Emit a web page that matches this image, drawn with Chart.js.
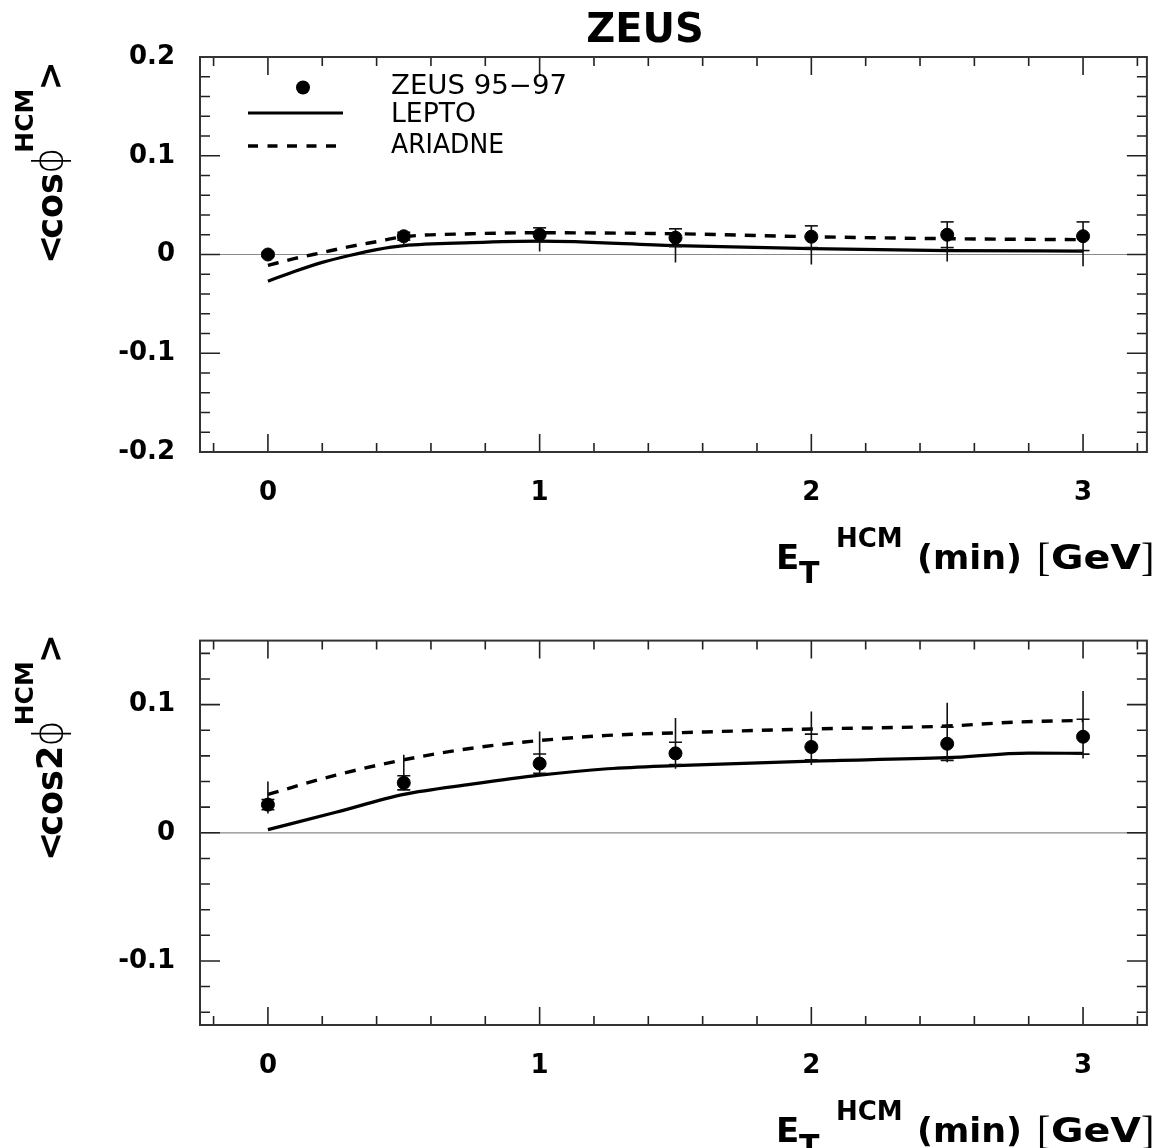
<!DOCTYPE html>
<html><head><meta charset="utf-8">
<script src="https://cdn.jsdelivr.net/npm/chart.js@4.4.1/dist/chart.umd.min.js"></script>
<style>
html,body{margin:0;padding:0;background:#fff;}
#wrap{position:relative;width:1155px;height:1148px;overflow:hidden;}
.box{position:absolute;left:0;}
</style></head><body>
<div id="wrap">
<div class="box" style="top:0;width:1155px;height:600px"><canvas id="c1" width="1155" height="600"></canvas></div>
<div class="box" style="top:600px;width:1155px;height:548px"><canvas id="c2" width="1155" height="548"></canvas></div>
</div>
<script>
// ---------- data ----------
const xPoints = [0, 0.5, 1, 1.5, 2, 2.5, 3];

// top panel: <cos phi HCM>
const cos1Values  = [0.000, 0.0185, 0.020, 0.017, 0.018, 0.020, 0.0185];
const cos1Stat    = [0.002, 0.004, 0.007, 0.009, 0.011, 0.013, 0.0145];
const cos1TotUp   = [0.002, 0.004, 0.007, 0.009, 0.011, 0.013, 0.0145];
const cos1TotDown = [0.004, 0.010, 0.017, 0.025, 0.028, 0.027, 0.0305];
const lepto1X   = [0, 0.1, 0.2, 0.3, 0.4, 0.5, 0.75, 1, 1.5, 2, 2.5, 3];
const lepto1Y   = [-0.027, -0.017, -0.008, -0.001, 0.005, 0.009, 0.012, 0.0135, 0.009, 0.006, 0.004, 0.0035];
const ariadne1X = [0, 0.1, 0.2, 0.3, 0.4, 0.5, 0.75, 1, 1.5, 2, 2.5, 3];
const ariadne1Y = [-0.011, -0.004, 0.002, 0.008, 0.013, 0.018, 0.021, 0.022, 0.021, 0.018, 0.016, 0.015];

// bottom panel: <cos 2phi HCM>
const cos2Values  = [0.022, 0.039, 0.054, 0.062, 0.067, 0.0695, 0.075];
const cos2Stat    = [0.004, 0.0055, 0.0075, 0.0087, 0.010, 0.013, 0.0136];
const cos2TotUp   = [0.018, 0.022, 0.025, 0.0276, 0.0277, 0.032, 0.0356];
const cos2TotDown = [0.007, 0.006, 0.0075, 0.012, 0.014, 0.0145, 0.017];
const lepto2X   = [0, 0.25, 0.5, 0.75, 1, 1.25, 1.5, 2, 2.5, 2.8, 3];
const lepto2Y   = [0.0025, 0.016, 0.030, 0.038, 0.045, 0.050, 0.0525, 0.056, 0.0586, 0.0622, 0.062];
const ariadne2X = [0, 0.25, 0.5, 0.75, 1, 1.25, 1.5, 2, 2.5, 2.75, 3];
const ariadne2Y = [0.030, 0.045, 0.057, 0.066, 0.072, 0.076, 0.078, 0.081, 0.0833, 0.0864, 0.0877];

// ticks
const xTickValues = [0, 1, 2, 3];
const xTickLabels = ['0', '1', '2', '3'];
const y1TickValues = [-0.2, -0.1, 0, 0.1, 0.2];
const y1TickLabels = ['-0.2', '-0.1', '0', '0.1', '0.2'];
const y2TickValues = [-0.1, 0, 0.1];
const y2TickLabels = ['-0.1', '0', '0.1'];

const legendLabels = ['ZEUS 95\u221297', 'LEPTO', 'ARIADNE'];
const chartTitle = 'ZEUS';

// ---------- helpers ----------
const BOLD = '"DejaVu Sans", sans-serif';
const pts = (xs, ys) => xs.map((x, i) => ({x, y: ys[i]}));
function errSegs(xs, ys, up, down) {
  const out = [];
  xs.forEach((x, i) => { out.push({x, y: ys[i] - down[i]}, {x, y: ys[i] + up[i]}, {x, y: null}); });
  return out;
}
function caps(xs, ys, st) {
  const out = [];
  xs.forEach((x, i) => { out.push({x, y: ys[i] - st[i]}, {x, y: ys[i] + st[i]}); });
  return out;
}
function fitText(ctx, s, x, y, w) {
  const m = ctx.measureText(s).width;
  ctx.save(); ctx.translate(x, y); ctx.scale(w / m, 1); ctx.fillText(s, 0, 0); ctx.restore();
}

function decoPlugin(cfg) {
  return {
    id: 'deco',
    beforeDatasetsDraw(chart) {
      const {ctx, chartArea: a, scales: {y}} = chart;
      const y0 = y.getPixelForValue(0);
      ctx.save();
      ctx.strokeStyle = '#8a8a8a'; ctx.lineWidth = 1.2;
      ctx.beginPath(); ctx.moveTo(a.left, y0); ctx.lineTo(a.right, y0); ctx.stroke();
      ctx.restore();
    },
    afterDraw(chart) {
      const {ctx, chartArea: a, scales: {x, y}} = chart;
      ctx.save();
      ctx.strokeStyle = '#222'; ctx.lineWidth = 1.6;
      // x ticks (inward, top and bottom)
      for (let k = -1; k <= 16; k++) {
        const v = k * 0.2;
        const px = x.getPixelForValue(v);
        if (px < a.left + 2 || px > a.right - 2) continue;
        const major = Math.abs(v - Math.round(v)) < 1e-6;
        const L = major ? 18 : 9;
        ctx.beginPath();
        ctx.moveTo(px, a.bottom); ctx.lineTo(px, a.bottom - L);
        ctx.moveTo(px, a.top); ctx.lineTo(px, a.top + L);
        ctx.stroke();
      }
      // y ticks (inward, left and right)
      for (let k = -10; k <= 10; k++) {
        const v = k * 0.02;
        if (v < cfg.ymin - 1e-9 || v > cfg.ymax + 1e-9) continue;
        const py = y.getPixelForValue(v);
        const major = (k % 5) === 0;
        const L = major ? 20 : 10;
        ctx.beginPath();
        ctx.moveTo(a.left, py); ctx.lineTo(a.left + L, py);
        ctx.moveTo(a.right, py); ctx.lineTo(a.right - L, py);
        ctx.stroke();
      }
      // frame
      ctx.strokeStyle = '#333'; ctx.lineWidth = 2;
      ctx.strokeRect(a.left, a.top, a.right - a.left, a.bottom - a.top);

      ctx.fillStyle = '#000';
      ctx.textBaseline = 'alphabetic';
      // x title: E_T^HCM (min) [GeV]
      const b = a.bottom + 117;
      ctx.textAlign = 'left';
      ctx.font = 'bold 34px ' + BOLD; ctx.fillText('E', 776, b);
      ctx.font = 'bold 30px ' + BOLD; ctx.fillText('T', 799, b + 14);
      ctx.font = 'bold 26px ' + BOLD; ctx.fillText('HCM', 836, b - 22);
      ctx.font = 'bold 34px ' + BOLD; fitText(ctx, '(min)', 917, b, 105);
      ctx.font = '40px "Liberation Serif", serif'; ctx.fillText('[', 1037, b + 2);
      ctx.font = 'bold 34px ' + BOLD; fitText(ctx, 'GeV', 1051, b, 90);
      ctx.font = '40px "Liberation Serif", serif'; ctx.fillText(']', 1141, b + 2);

      // y title (rotated)
      ctx.save();
      ctx.translate(62, cfg.yTitleStart);
      ctx.rotate(-Math.PI / 2);
      let pos = 0;
      for (const p of cfg.yTitleParts) {
        ctx.font = p.font;
        ctx.fillText(p.t, pos + (p.dx || 0), p.dy || 0);
        pos += ctx.measureText(p.t).width + (p.dx || 0);
      }
      ctx.restore();

      if (cfg.extra) cfg.extra(ctx, chart);
      ctx.restore();
    }
  };
}

function makeChart(id, cfg) {
  return new Chart(document.getElementById(id), {
    type: 'scatter',
    data: {
      datasets: [
        { label: legendLabels[0], data: pts(xPoints, cfg.values), pointRadius: 6.5, pointBorderWidth: 1,
          backgroundColor: '#000', borderColor: '#000', pointStyle: 'circle' },
        { label: 'stat caps', data: caps(xPoints, cfg.values, cfg.stat), pointStyle: 'line', pointRadius: 6.5,
          pointBorderWidth: 1.6, borderColor: '#111', backgroundColor: '#111' },
        { label: 'errors', data: errSegs(xPoints, cfg.values, cfg.totUp, cfg.totDown), showLine: true, spanGaps: false,
          borderColor: '#111', borderWidth: 1.6, pointRadius: 0 },
        { label: legendLabels[1], data: pts(cfg.leptoX, cfg.leptoY), showLine: true, borderColor: '#000',
          borderWidth: 3.2, pointRadius: 0, cubicInterpolationMode: 'monotone' },
        { label: legendLabels[2], data: pts(cfg.ariadneX, cfg.ariadneY), showLine: true, borderColor: '#000',
          borderWidth: 3.4, borderDash: [11, 9], pointRadius: 0, cubicInterpolationMode: 'monotone' }
      ]
    },
    options: {
      responsive: false, animation: false, events: [],
      layout: { padding: { top: cfg.padTop, right: 7, left: 0, bottom: 0 } },
      plugins: { legend: { display: false }, tooltip: { enabled: false }, title: { display: false } },
      scales: {
        x: {
          type: 'linear', min: -0.25, max: 3.235,
          grid: { display: false, drawTicks: false }, border: { display: false },
          afterFit: s => { s.height = cfg.xAxisHeight; },
          afterBuildTicks: s => { s.ticks = xTickValues.map(v => ({value: v})); },
          ticks: { padding: 26, autoSkip: false, maxRotation: 0, color: '#000',
                   font: { family: BOLD, weight: 'bold', size: 26 },
                   callback: (v, i) => xTickLabels[i] }
        },
        y: {
          type: 'linear', min: cfg.ymin, max: cfg.ymax,
          grid: { display: false, drawTicks: false }, border: { display: false },
          afterFit: s => { s.width = 200; },
          afterBuildTicks: s => { s.ticks = cfg.yTickValues.map(v => ({value: v})); },
          ticks: { padding: 25, autoSkip: false, color: '#000',
                   font: { family: BOLD, weight: 'bold', size: 26 },
                   callback: (v, i) => cfg.yTickLabels[i] }
        }
      }
    },
    plugins: [decoPlugin(cfg)]
  });
}

const yTitleFontB = 'bold 35px ' + BOLD;
const supFont = 'bold 25px ' + BOLD;
const phiFont = '200 40px "DejaVu Sans", sans-serif';

makeChart('c1', {
  values: cos1Values, stat: cos1Stat, totUp: cos1TotUp, totDown: cos1TotDown,
  leptoX: lepto1X, leptoY: lepto1Y, ariadneX: ariadne1X, ariadneY: ariadne1Y,
  ymin: -0.2, ymax: 0.2, yTickValues: y1TickValues, yTickLabels: y1TickLabels,
  padTop: 57, xAxisHeight: 148, yTitleStart: 264,
  yTitleParts: [
    {t: '<', font: yTitleFontB}, {t: 'cos', font: yTitleFontB, dx: -4}, {t: '\u03d5', font: phiFont, dx: -1},
    {t: 'HCM', font: supFont, dy: -29, dx: -5}, {t: '>', font: yTitleFontB, dx: -2}
  ],
  extra(ctx) {
    ctx.textAlign = 'center';
    ctx.font = 'bold 40px ' + BOLD;
    ctx.fillText(chartTitle, 645, 42);
    // legend
    ctx.textAlign = 'left';
    ctx.font = '26px "DejaVu Sans", sans-serif';
    ctx.beginPath(); ctx.arc(303, 87.5, 7, 0, Math.PI * 2); ctx.fill();
    fitText(ctx, legendLabels[0], 391, 94, 176);
    ctx.strokeStyle = '#000'; ctx.lineWidth = 3.2; ctx.setLineDash([]);
    ctx.beginPath(); ctx.moveTo(248, 113); ctx.lineTo(343, 113); ctx.stroke();
    fitText(ctx, legendLabels[1], 391, 122, 85);
    ctx.lineWidth = 3.4; ctx.setLineDash([10, 9.5]);
    ctx.beginPath(); ctx.moveTo(248, 146); ctx.lineTo(338, 146); ctx.stroke();
    ctx.setLineDash([]);
    fitText(ctx, legendLabels[2], 391, 153, 113);
  }
});

makeChart('c2', {
  values: cos2Values, stat: cos2Stat, totUp: cos2TotUp, totDown: cos2TotDown,
  leptoX: lepto2X, leptoY: lepto2Y, ariadneX: ariadne2X, ariadneY: ariadne2Y,
  ymin: -0.15, ymax: 0.15, yTickValues: y2TickValues, yTickLabels: y2TickLabels,
  padTop: 33, xAxisHeight: 123, yTitleStart: 261,
  yTitleParts: [
    {t: '<', font: yTitleFontB}, {t: 'cos2', font: yTitleFontB, dx: -4}, {t: '\u03d5', font: phiFont, dx: -1},
    {t: 'HCM', font: supFont, dy: -29, dx: -5}, {t: '>', font: yTitleFontB, dx: -2}
  ]
});
</script>
</body></html>
